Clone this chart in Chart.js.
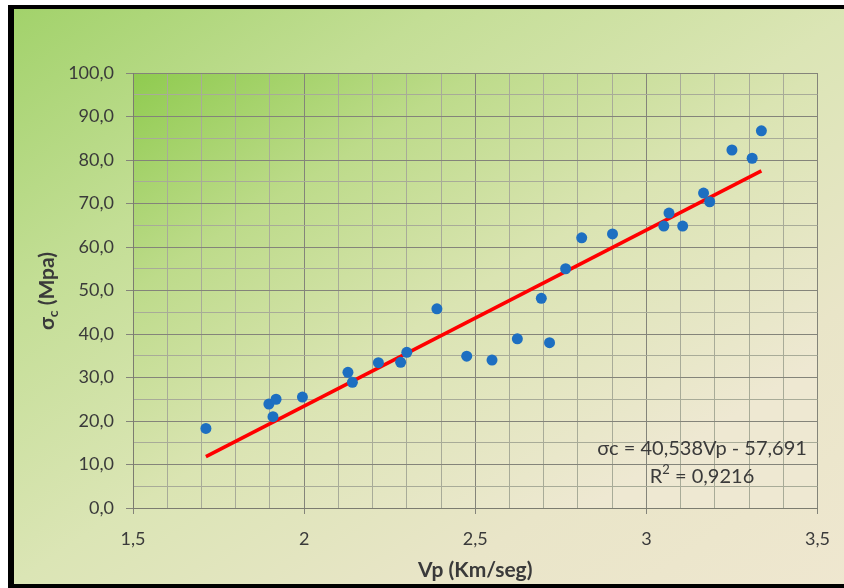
<!DOCTYPE html>
<html>
<head>
<meta charset="utf-8">
<title>Vp vs σc</title>
<script src="https://cdn.jsdelivr.net/npm/chart.js@4/dist/chart.umd.min.js"></script>
<style>
    html, body {
        margin: 0;
        padding: 0;
        background: #ffffff;
        overflow: hidden;
    }
    #frame {
        position: absolute;
        left: 8px;
        top: 5px;
        width: 850px;
        height: 583px;
        box-sizing: border-box;
        border-left: 6px solid #000;
        border-top: 4px solid #000;
        border-bottom: 4px solid #000;
        background: linear-gradient(to bottom right, #a2d26b 0%, #c3de95 25%, #dbe5b5 50%, #e9e5c8 75%, #efe7d0 100%);
    }
    #chart {
        position: absolute;
        left: 0;
        top: 0;
    }
</style>
</head>
<body>
<div id="frame"></div>
<canvas id="chart" width="844" height="588"></canvas>
<script>
// measured points (Vp in km/s, sigma c in MPa)
const vp = [1.713, 1.897, 1.918, 1.909, 1.995, 2.128, 2.141, 2.217, 2.282, 2.300,
            2.388, 2.475, 2.549, 2.623, 2.693, 2.717, 2.764, 2.811, 2.901, 3.051,
            3.066, 3.106, 3.167, 3.185, 3.250, 3.309, 3.336];
const sigma = [18.3, 23.9, 25.0, 21.0, 25.5, 31.2, 28.9, 33.4, 33.5, 35.8,
               45.8, 34.9, 34.0, 38.9, 48.2, 38.0, 55.0, 62.1, 63.0, 64.8,
               67.8, 64.8, 72.4, 70.4, 82.3, 80.4, 86.7];

// trend line ends
const trendX = [1.713, 3.336];
const trendY = [11.8, 77.5];

const xMin = 1.5, xMax = 3.5, xStep = 0.1;
const yMin = 0, yMax = 100, yStep = 5;

const equationText = 'σc = 40,538Vp - 57,691';
const r2Label = 'R';
const r2Sup = '2';
const r2Value = ' = 0,9216';
const xTitle = 'Vp (Km/seg)';
const yTitleMain = 'σ';
const yTitleSub = 'c';
const yTitleRest = ' (Mpa)';

const majorGrid = '#84847a';
const minorGrid = '#a8ab98';
const textColor = '#3a3a3a';

function isMajorX(v) {
    return Math.abs(v * 2 - Math.round(v * 2)) < 1e-6;
}

function isMajorY(v) {
    return Math.abs(v / 10 - Math.round(v / 10)) < 1e-6;
}

function toPoints(xs, ys) {
    return xs.map((x, i) => ({ x: x, y: ys[i] }));
}

// plot area gradient, green in the top left corner
const plotBackground = {
    id: 'plotBackground',
    beforeDraw(chart) {
        const { ctx, chartArea } = chart;
        const w = chartArea.right - chartArea.left;
        const h = chartArea.bottom - chartArea.top;
        // b = a*w/h so the top-right and bottom-left corners get the same tone (t = 0.6)
        const a = w / (0.6 * (1 + (w / h) * (w / h)));
        const b = a * w / h;
        const g = ctx.createLinearGradient(chartArea.left, chartArea.top,
            chartArea.left + a, chartArea.top + b);
        g.addColorStop(0, '#8fcb4f');
        g.addColorStop(0.3, '#bddb8a');
        g.addColorStop(0.6, '#dae4b2');
        g.addColorStop(1, '#eee8d2');
        ctx.save();
        ctx.fillStyle = g;
        ctx.fillRect(chartArea.left, chartArea.top, w, h);
        ctx.restore();
    }
};

// axis titles and the regression text
const labels = {
    id: 'labels',
    afterDraw(chart) {
        const { ctx, chartArea } = chart;
        ctx.save();
        ctx.fillStyle = textColor;
        ctx.textBaseline = 'middle';

        // x title
        ctx.font = 'bold 21px Lato';
        ctx.textAlign = 'center';
        ctx.fillText(xTitle, (chartArea.left + chartArea.right) / 2, 570);

        // y title with subscript
        ctx.translate(47, 291);
        ctx.rotate(-Math.PI / 2);
        const mainW = ctx.measureText(yTitleMain).width;
        const restW = ctx.measureText(yTitleRest).width;
        ctx.font = 'bold 14px Lato';
        const subW = ctx.measureText(yTitleSub).width;
        let x = -(mainW + subW + restW) / 2;
        ctx.textAlign = 'left';
        ctx.font = 'bold 21px Lato';
        ctx.fillText(yTitleMain, x, 0);
        x += mainW;
        ctx.font = 'bold 14px Lato';
        ctx.fillText(yTitleSub, x, 6);
        x += subW;
        ctx.font = 'bold 21px Lato';
        ctx.fillText(yTitleRest, x, 0);
        ctx.setTransform(1, 0, 0, 1, 0, 0);

        // equation
        ctx.font = '20px Lato';
        ctx.textAlign = 'center';
        ctx.fillText(equationText, 702, 449);

        ctx.textAlign = 'left';
        const wR = ctx.measureText(r2Label).width;
        const wV = ctx.measureText(r2Value).width;
        ctx.font = '13px Lato';
        const wS = ctx.measureText(r2Sup).width;
        let rx = 702 - (wR + wS + wV) / 2;
        ctx.font = '20px Lato';
        ctx.fillText(r2Label, rx, 477);
        rx += wR;
        ctx.font = '13px Lato';
        ctx.fillText(r2Sup, rx, 470);
        rx += wS;
        ctx.font = '20px Lato';
        ctx.fillText(r2Value, rx, 477);
        ctx.restore();
    }
};

function drawChart() {
    const ctx = document.getElementById('chart').getContext('2d');

    new Chart(ctx, {
        type: 'scatter',
        data: {
            datasets: [
                {
                    label: 'Trend',
                    type: 'line',
                    data: toPoints(trendX, trendY),
                    borderColor: '#ff0000',
                    borderWidth: 3.5,
                    pointRadius: 0,
                    fill: false,
                    order: 2
                },
                {
                    label: 'Datos',
                    data: toPoints(vp, sigma),
                    backgroundColor: '#1d6fc1',
                    borderColor: '#1d6fc1',
                    borderWidth: 0,
                    pointRadius: 5.5,
                    order: 1
                }
            ]
        },
        options: {
            responsive: false,
            animation: false,
            layout: {
                padding: { left: 0, top: 73, right: 20, bottom: 0 }
            },
            plugins: {
                legend: { display: false },
                tooltip: { enabled: false }
            },
            scales: {
                x: {
                    type: 'linear',
                    min: xMin,
                    max: xMax,
                    afterFit(scale) { scale.height = 80; },
                    ticks: {
                        stepSize: xStep,
                        autoSkip: false,
                        maxRotation: 0,
                        padding: 14,
                        color: textColor,
                        font: { family: 'Lato', size: 18 },
                        callback: v => isMajorX(v) ? String(Math.round(v * 10) / 10).replace('.', ',') : ''
                    },
                    grid: {
                        color: c => isMajorX(c.tick.value) ? majorGrid : minorGrid,
                        tickColor: c => isMajorX(c.tick.value) ? majorGrid : 'rgba(0,0,0,0)',
                        tickLength: 6
                    },
                    border: { color: '#7c7c70', width: 1 }
                },
                y: {
                    min: yMin,
                    max: yMax,
                    afterFit(scale) { scale.width = 133; },
                    ticks: {
                        stepSize: yStep,
                        autoSkip: false,
                        padding: 12,
                        color: textColor,
                        font: { family: 'Lato', size: 18 },
                        callback: v => isMajorY(v) ? v.toFixed(1).replace('.', ',') : ''
                    },
                    grid: {
                        color: c => isMajorY(c.tick.value) ? majorGrid : minorGrid,
                        tickColor: c => isMajorY(c.tick.value) ? majorGrid : 'rgba(0,0,0,0)',
                        tickLength: 7
                    },
                    border: { color: '#7c7c70', width: 1 }
                }
            }
        },
        plugins: [plotBackground, labels]
    });
}

window.onload = function() {
    drawChart();
};
</script>
</body>
</html>
